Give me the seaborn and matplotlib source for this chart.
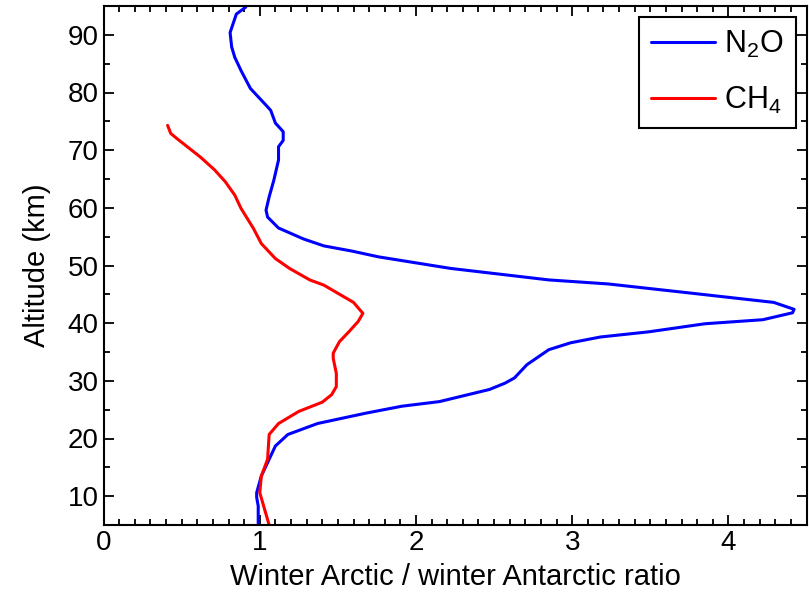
import pandas as pd
import seaborn as sns
import matplotlib.pyplot as plt
from matplotlib.ticker import MultipleLocator

# profiles (ratio, altitude in km)
n2o_ratio = [0.91, 0.85, 0.81, 0.82, 0.84, 0.88, 0.94, 1.04, 1.07, 1.10, 1.15, 1.15,
             1.12, 1.12, 1.09, 1.06, 1.04, 1.05, 1.12, 1.28, 1.41, 1.59, 1.76, 2.22,
             2.85, 3.23, 3.73, 4.29, 4.42, 4.41, 4.22, 3.85, 3.49, 3.18, 2.99, 2.85,
             2.71, 2.63, 2.57, 2.47, 2.15, 1.91, 1.68, 1.37, 1.18, 1.10, 1.06, 1.01,
             0.98, 0.98, 0.99, 0.99]
n2o_alt = [94.8, 93.6, 90.4, 87.9, 86.1, 83.8, 80.7, 77.8, 76.9, 74.7, 73.2, 71.7,
           70.6, 68.3, 64.8, 61.9, 59.6, 58.4, 56.5, 54.6, 53.4, 52.5, 51.5, 49.5,
           47.5, 46.8, 45.3, 43.6, 42.4, 41.8, 40.6, 39.9, 38.5, 37.6, 36.6, 35.4,
           32.8, 30.5, 29.6, 28.5, 26.4, 25.6, 24.4, 22.6, 20.7, 18.7, 16.4, 13.5,
           10.6, 9.8, 8.3, 5.0]

ch4_ratio = [0.41, 0.43, 0.47, 0.62, 0.71, 0.78, 0.84, 0.88, 0.96, 1.01, 1.10, 1.19,
             1.32, 1.41, 1.60, 1.66, 1.63, 1.57, 1.51, 1.47, 1.47, 1.49, 1.49, 1.46,
             1.40, 1.25, 1.12, 1.06, 1.05, 1.01, 1.00, 1.06]
ch4_alt = [74.3, 72.9, 72.0, 68.8, 66.6, 64.5, 62.2, 59.9, 56.4, 53.8, 51.2, 49.5,
           47.5, 46.6, 43.6, 41.7, 40.3, 38.5, 36.8, 34.8, 33.9, 31.3, 29.0, 27.6,
           26.3, 24.7, 22.6, 20.7, 16.4, 13.5, 10.6, 5.0]

labels = [r'N$_2$O', r'CH$_4$']

df = pd.concat([
    pd.DataFrame({'ratio': n2o_ratio, 'alt': n2o_alt, 'gas': labels[0]}),
    pd.DataFrame({'ratio': ch4_ratio, 'alt': ch4_alt, 'gas': labels[1]}),
])

sns.set_style('ticks')
plt.rcParams['font.family'] = ['Liberation Sans', 'DejaVu Sans']
plt.rcParams['mathtext.fontset'] = 'custom'
plt.rcParams['mathtext.rm'] = 'Liberation Sans'
plt.rcParams['mathtext.it'] = 'Liberation Sans'
plt.rcParams['text.color'] = 'black'
plt.rcParams['axes.labelcolor'] = 'black'
plt.rcParams['xtick.color'] = 'black'
plt.rcParams['ytick.color'] = 'black'
plt.rcParams['axes.edgecolor'] = 'black'

fig = plt.figure(figsize=(8.09, 6.0), dpi=100)
ax = fig.add_axes([0.128, 0.125, 0.869, 0.865])

sns.lineplot(data=df, x='ratio', y='alt', hue='gas', palette=['#0000ff', '#ff0000'],
             sort=False, estimator=None, linewidth=2.2, ax=ax)

ax.set_xlim(0, 4.5)
ax.set_ylim(5, 95)
ax.xaxis.set_major_locator(MultipleLocator(1))
ax.xaxis.set_minor_locator(MultipleLocator(0.1))
ax.yaxis.set_major_locator(MultipleLocator(10))
ax.yaxis.set_minor_locator(MultipleLocator(5))
ax.tick_params(which='both', direction='in', top=True, right=True, width=1.3, labelsize=20)
ax.tick_params(which='major', length=7)
ax.tick_params(which='minor', length=4)
for s in ax.spines.values():
    s.set_linewidth(1.5)

ax.set_xlabel('Winter Arctic / winter Antarctic ratio', fontsize=21, labelpad=5)
ax.set_ylabel('Altitude (km)', fontsize=21, labelpad=12)

leg = ax.legend(loc='upper right', fontsize=22, frameon=True, fancybox=False,
                edgecolor='black', handlelength=2.1, handletextpad=0.3,
                borderaxespad=0.35, borderpad=0.4, labelspacing=0.8)
leg.get_frame().set_linewidth(1.5)
leg.get_frame().set_alpha(1)

plt.savefig('out.png', dpi=100)
